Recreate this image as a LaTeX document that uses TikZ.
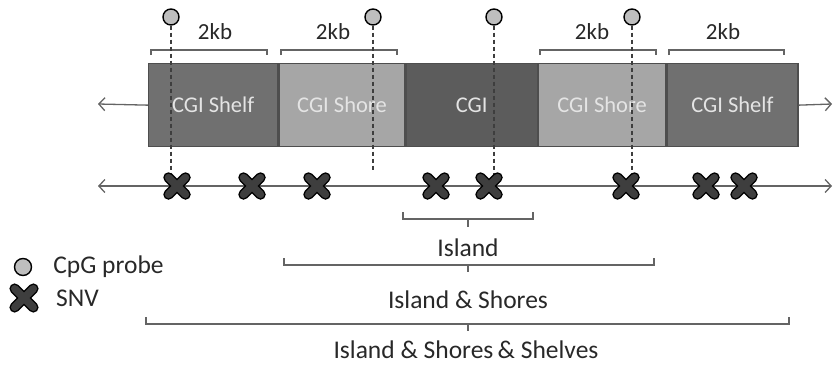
\documentclass[tikz,border=0pt]{standalone}
\usepackage{fontspec}
\setmainfont{Carlito}
\usepackage{tikz}
\usetikzlibrary{arrows.meta}
\usetikzlibrary{positioning}
\usetikzlibrary{calc}
\definecolor{shelfgray}{RGB}{112,112,112}
\definecolor{shoregray}{RGB}{166,166,166}
\definecolor{cgigray}{RGB}{92,92,92}
\definecolor{bordergray}{RGB}{78,78,78}
\definecolor{boxtext}{RGB}{228,228,228}
\definecolor{labelgray}{RGB}{40,40,40}
\definecolor{axisgray}{RGB}{100,100,100}
\definecolor{snvgray}{RGB}{62,62,62}
\definecolor{probegray}{RGB}{190,190,190}

\begin{document}
\begin{tikzpicture}[x = 1pt, y = -1pt,
	seg/.style = {draw = bordergray, line width = 1.3pt, minimum height = 83pt, inner sep = 0pt, text = boxtext, font = \fontsize{22.5}{24}\selectfont},
	probe/.style = {circle, draw = black, fill = probegray, line width = 1.4pt, minimum size = 16pt, inner sep = 0pt},
	lbl/.style = {text = labelgray, inner sep = 0pt, font = \fontsize{25.5}{27}\selectfont},
	kb/.style = {text = labelgray, inner sep = 0pt, font = \fontsize{23}{25}\selectfont},
	axis/.style = {draw = axisgray, line width = 1.3pt, arrows = {Straight Barb[length = 6pt, width = 13pt]-Straight Barb[length = 6pt, width = 13pt]}},
	brk/.style = {draw = axisgray, line width = 1.3pt},
	probeline/.style = {draw = snvgray, line width = 1.2pt, dash pattern = on 4pt off 3pt},
	snv/.pic = {
		\draw[black, line width = 10.5pt, line cap = round] (-8.5,-8.5) -- (8.5,8.5) (-8.5,8.5) -- (8.5,-8.5);
		\draw[snvgray, line width = 7.5pt, line cap = round] (-8.5,-8.5) -- (8.5,8.5) (-8.5,8.5) -- (8.5,-8.5);
	}]
	\useasboundingbox (0,0) rectangle (834,364);

	\node[seg, fill = shelfgray, minimum width = 129pt, anchor = north west] (A) at (148,63) {CGI Shelf};
	\node[seg, fill = shoregray, minimum width = 126pt, right = 0pt of A] (B) {CGI Shore};
	\node[seg, fill = cgigray, minimum width = 131pt, right = 0pt of B] (C) {CGI};
	\node[seg, fill = shoregray, minimum width = 127pt, right = 0pt of C] (D) {CGI Shore};
	\node[seg, fill = shelfgray, minimum width = 131pt, right = 0pt of D] (E) {CGI Shelf};

	\coordinate (la) at (98,104);
	\coordinate (ra) at (832,104);
	\draw[axis, arrows = -{Straight Barb[length = 6pt, width = 13pt]}] (A.west) -- (la);
	\draw[axis, arrows = -{Straight Barb[length = 6pt, width = 13pt]}] (E.east) -- (ra);

	\coordinate (L) at (98,186);
	\coordinate (R) at (832,186);
	\draw[axis] (L) -- (R);

	\draw[brk] (151,55) -- (151,50) -- (267,50) -- (267,55);
	\draw[brk] (281,55) -- (281,50) -- (397,50) -- (397,55);
	\draw[brk] (540,55) -- (540,50) -- (656,50) -- (656,55);
	\draw[brk] (669,55) -- (669,50) -- (784,50) -- (784,55);
	\node[kb] (k1) at (215,32) {2kb};
	\node[kb] (k2) at (333,32) {2kb};
	\node[kb] (k3) at (592,32) {2kb};
	\node[kb] (k4) at (723,32) {2kb};

	\node[probe] (p1) at (171,17) {};
	\node[probe] (p2) at (373,17) {};
	\node[probe] (p3) at (494,17) {};
	\node[probe] (p4) at (632,17) {};

	\coordinate (s1) at (177,186);
	\coordinate (s2) at (252,186);
	\coordinate (s3) at (317,186);
	\coordinate (s4) at (436,186);
	\coordinate (s5) at (489,186);
	\coordinate (s6) at (626,186);
	\coordinate (s7) at (706,186);
	\coordinate (s8) at (744,186);
	\coordinate (e2) at (373,171);

	\draw[probeline] (p1.south) -- (p1 |- s1);
	\draw[probeline] (p2.south) -- (e2);
	\draw[probeline] (p3.south) -- (p3 |- s5);
	\draw[probeline] (p4.south) -- (p4 |- s6);

	\pic at (s1) {snv};
	\pic at (s2) {snv};
	\pic at (s3) {snv};
	\pic at (s4) {snv};
	\pic at (s5) {snv};
	\pic at (s6) {snv};
	\pic at (s7) {snv};
	\pic at (s8) {snv};

	\draw[brk] (403,212) -- (403,219) -- (533,219) -- (533,212);
	\draw[brk] (468,219) -- (468,227);
	\node[lbl] (i1) at (468,248) {Island};
	\draw[brk] (284,258) -- (284,265) -- (654,265) -- (654,258);
	\draw[brk] (468,265) -- (468,272);
	\node[lbl] (i2) at (468,300) {Island \& Shores};
	\draw[brk] (146,317) -- (146,324) -- (789,324) -- (789,317);
	\draw[brk] (468,324) -- (468,331);
	\node[lbl] (i3) at (466,350) {Island \& Shores\,\& Shelves};

	\node[probe, minimum size = 17pt] (lp) at (23,267) {};
	\node[lbl, right = 21pt of lp] (lpt) {CpG probe};
	\coordinate (ls) at (24,298);
	\pic[scale = 1.1] at (ls) {snv};
	\node[lbl, anchor = west] (lst) at (56,298) {SNV};
\end{tikzpicture}
\end{document}
